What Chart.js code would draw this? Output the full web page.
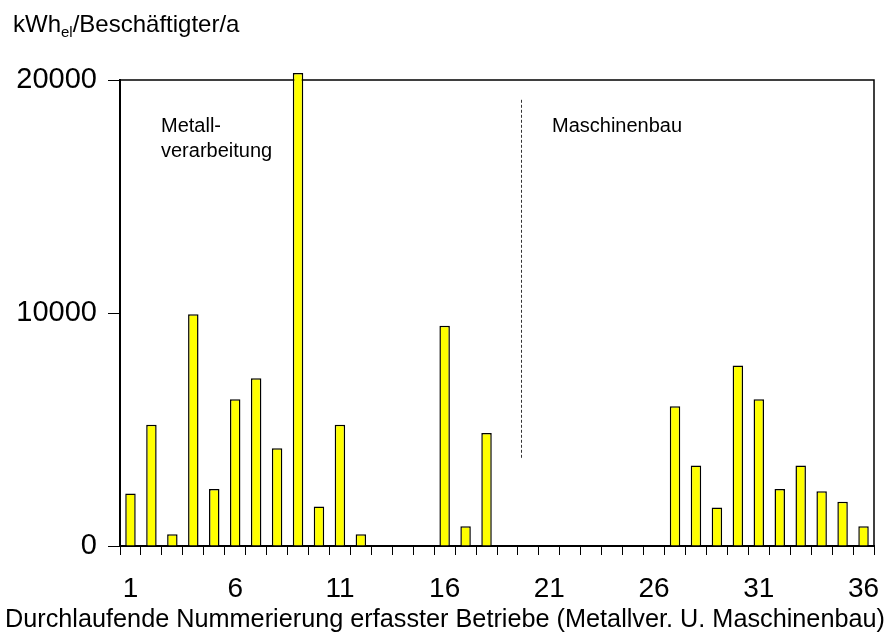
<!DOCTYPE html>
<html>
<head>
<meta charset="utf-8">
<script src="https://cdn.jsdelivr.net/npm/chart.js@4.4.0/dist/chart.umd.min.js"></script>
<style>
  body { margin: 0; background: #fff; }
  canvas { display: block; }
</style>
</head>
<body>
<canvas id="my-chart" width="891" height="635"></canvas>
<script>
'use strict';

// ******** DATA **************
let betriebe = [];
for (let i = 1; i <= 36; i++) {
  betriebe.push(String(i));
}

let verbrauch = [
  2250, 5200, 500, 9950, 2450, 6300, 7200, 4200, 20300, 1700,
  5200, 500, 0, 0, 0, 9450, 850, 4850, 0, 0,
  0, 0, 0, 0, 0, 0, 6000, 3450, 1650, 7750,
  6300, 2450, 3450, 2350, 1900, 850
];

let yTicks = [0, 10000, 20000];
let xTickLabels = ['1', '6', '11', '16', '21', '26', '31', '36'];

let yTitle = 'kWh';
let yTitleSub = 'el';
let yTitleRest = '/Beschäftigter/a';
let xTitle = 'Durchlaufende Nummerierung erfasster Betriebe (Metallver. U. Maschinenbau)';
let groupLeft = ['Metall-', 'verarbeitung'];
let groupRight = 'Maschinenbau';

// divider between the two groups (category index, value range)
let dividerIndex = 18.63;
let dividerFrom = 3700;
let dividerTo = 19150;

const FONT = '"Liberation Sans", Arial, sans-serif';

// ********* EXTRA DRAWING *************
let extrasPlugin = {
  id: 'extras',
  beforeDatasetsDraw(chart) {
    let ctx = chart.ctx;
    let area = chart.chartArea;
    ctx.save();
    // top + right border of the plot box
    ctx.strokeStyle = '#000';
    ctx.lineWidth = 1.5;
    ctx.beginPath();
    ctx.moveTo(area.left, area.top);
    ctx.lineTo(area.right, area.top);
    ctx.lineTo(area.right, area.bottom);
    ctx.stroke();

    // dashed divider
    let x = chart.scales.x.getPixelForValue(dividerIndex);
    ctx.strokeStyle = '#333';
    ctx.lineWidth = 1;
    ctx.setLineDash([3, 2]);
    ctx.beginPath();
    ctx.moveTo(Math.round(x) + 0.5, chart.scales.y.getPixelForValue(dividerTo));
    ctx.lineTo(Math.round(x) + 0.5, chart.scales.y.getPixelForValue(dividerFrom));
    ctx.stroke();
    ctx.setLineDash([]);

    // group labels
    ctx.fillStyle = '#000';
    ctx.font = '20px ' + FONT;
    ctx.textBaseline = 'alphabetic';
    ctx.textAlign = 'left';
    ctx.fillText(groupLeft[0], area.left + 41, area.top + 52);
    ctx.fillText(groupLeft[1], area.left + 41, area.top + 77);
    ctx.fillText(groupRight, area.left + 432, area.top + 52);

    // y axis title with subscript
    ctx.font = '24px ' + FONT;
    let tx = 13;
    let ty = 32;
    ctx.fillText(yTitle, tx, ty);
    tx += ctx.measureText(yTitle).width;
    ctx.font = '15px ' + FONT;
    ctx.fillText(yTitleSub, tx, ty + 5);
    tx += ctx.measureText(yTitleSub).width;
    ctx.font = '24px ' + FONT;
    ctx.fillText(yTitleRest, tx, ty);

    // x axis title (drawn here so it is not squeezed to the plot width)
    ctx.font = '25.5px ' + FONT;
    ctx.textAlign = 'center';
    ctx.fillText(xTitle, 445, 627, 880);
    ctx.restore();
  }
};

// ********* CHART *************
let canvasElem = document.getElementById('my-chart');

let myObj = {
  type: 'bar',
  data: {
    labels: betriebe,
    datasets: [{
      data: verbrauch,
      backgroundColor: '#ffff00',
      borderColor: '#000',
      borderWidth: 1.5,
      barPercentage: 0.5,
      categoryPercentage: 1,
      clip: false
    }]
  },
  options: {
    responsive: false,
    animation: false,
    layout: {
      padding: { top: 80, right: 17, left: 0, bottom: 0 }
    },
    plugins: {
      legend: { display: false },
      tooltip: { enabled: false }
    },
    scales: {
      x: {
        afterFit(scale) {
          scale.height = 89;
          scale.paddingLeft = 0;
          scale.paddingRight = 0;
        },
        border: { color: '#000', width: 2 },
        grid: {
          offset: true,
          drawOnChartArea: false,
          color: '#000',
          tickLength: 9
        },
        ticks: {
          autoSkip: false,
          maxRotation: 0,
          color: '#000',
          padding: 17,
          font: { family: FONT, size: 28 },
          callback(value) {
            let lbl = betriebe[value];
            return xTickLabels.includes(lbl) ? lbl : '';
          }
        }
      },
      y: {
        min: 0,
        max: 20000,
        afterFit(scale) {
          scale.width = 120;
          scale.paddingTop = 0;
          scale.paddingBottom = 0;
        },
        afterBuildTicks(scale) {
          scale.ticks = yTicks.map(v => ({ value: v }));
        },
        border: { color: '#000', width: 2 },
        grid: {
          drawOnChartArea: false,
          color: '#000',
          tickLength: 12
        },
        ticks: {
          color: '#000',
          padding: 11,
          font: { family: FONT, size: 29 },
          callback(value) { return String(value); }
        }
      }
    }
  },
  plugins: [extrasPlugin]
};

new Chart(canvasElem, myObj);
</script>
</body>
</html>
